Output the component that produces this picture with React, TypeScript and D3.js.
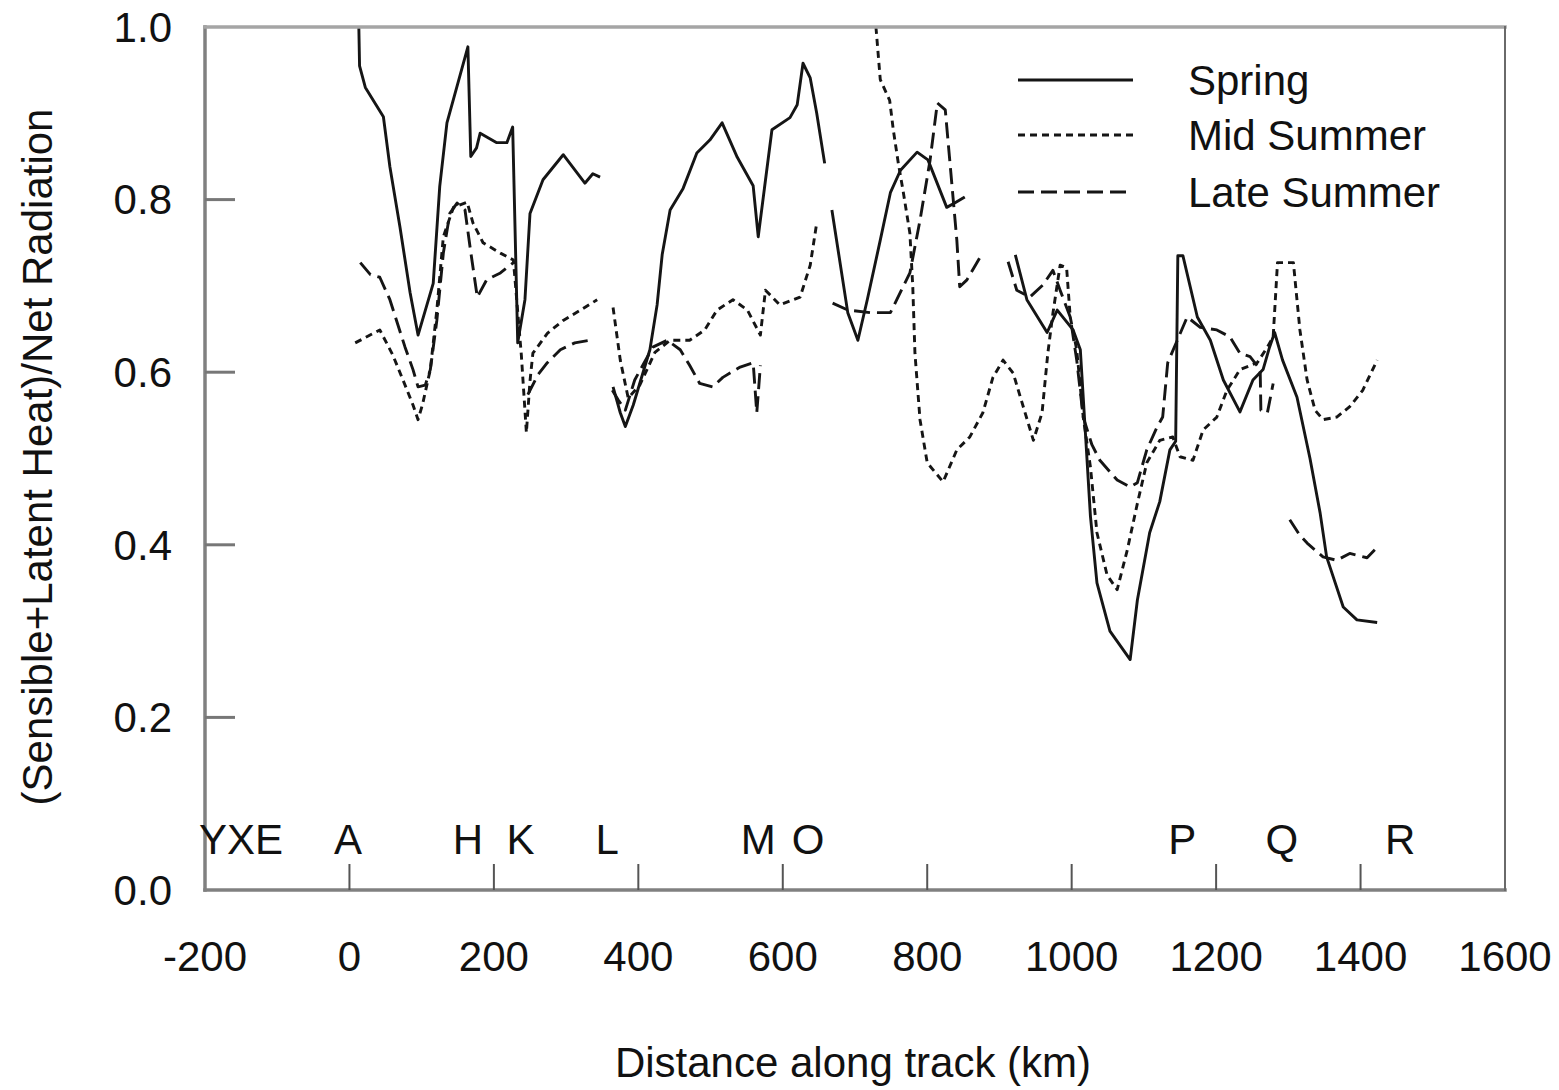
import React, { useEffect, useRef } from "react";
import * as d3 from "d3";

type Pt = [number, number];

// distance along track (km), ratio
const springSegments: Pt[][] = [
  [[13, 1.0], [14, 0.955], [22, 0.93], [47, 0.896], [56, 0.838], [70, 0.768], [84, 0.692], [95, 0.643], [116, 0.703], [125, 0.815], [135, 0.889], [164, 0.977], [168, 0.85], [176, 0.86], [181, 0.877], [204, 0.866], [218, 0.866], [226, 0.884], [233, 0.634], [243, 0.684], [250, 0.784], [268, 0.823], [296, 0.852], [326, 0.819], [337, 0.83], [347, 0.826]],
  [[365, 0.583], [375, 0.553], [382, 0.537], [393, 0.562], [416, 0.626], [426, 0.678], [433, 0.736], [444, 0.788], [462, 0.813], [481, 0.854], [499, 0.869], [516, 0.889], [537, 0.849], [559, 0.816], [566, 0.757], [585, 0.881], [610, 0.895], [620, 0.91], [628, 0.958], [638, 0.941], [647, 0.9], [658, 0.842]],
  [[668, 0.788], [690, 0.669], [704, 0.637], [717, 0.684], [735, 0.753], [749, 0.808], [763, 0.834], [786, 0.855], [801, 0.846], [827, 0.791], [838, 0.796], [852, 0.803]],
  [[922, 0.736], [938, 0.684], [966, 0.646], [980, 0.672], [1002, 0.649], [1012, 0.626], [1019, 0.53], [1026, 0.433], [1035, 0.356], [1053, 0.3], [1081, 0.267], [1091, 0.336], [1108, 0.414], [1122, 0.45], [1136, 0.51], [1144, 0.52], [1147, 0.735], [1154, 0.735], [1174, 0.664], [1192, 0.637], [1210, 0.591], [1233, 0.554], [1251, 0.591], [1265, 0.603], [1274, 0.629], [1281, 0.646], [1292, 0.614], [1312, 0.571], [1330, 0.5], [1344, 0.437], [1353, 0.386], [1376, 0.328], [1395, 0.313], [1423, 0.31]],
];

const midSummerSegments: Pt[][] = [
  [[8, 0.634], [42, 0.649], [60, 0.62], [77, 0.585], [88, 0.562], [95, 0.545], [101, 0.562], [112, 0.603], [121, 0.672], [130, 0.757], [144, 0.791], [163, 0.797], [171, 0.773], [185, 0.75], [209, 0.738], [227, 0.73], [238, 0.62], [245, 0.53], [250, 0.59], [254, 0.622], [274, 0.645], [296, 0.66], [320, 0.672], [343, 0.684]],
  [[365, 0.675], [375, 0.614], [386, 0.57], [402, 0.585], [423, 0.623], [444, 0.637], [471, 0.637], [492, 0.649], [509, 0.672], [531, 0.684], [551, 0.672], [569, 0.643], [576, 0.695], [596, 0.678], [624, 0.687], [638, 0.724], [647, 0.773]],
  [[729, 1.0], [735, 0.939], [748, 0.915], [753, 0.881], [760, 0.842], [767, 0.808], [776, 0.761], [780, 0.699], [783, 0.622], [790, 0.545], [800, 0.495], [822, 0.473], [841, 0.51], [859, 0.525], [877, 0.553], [891, 0.594], [905, 0.614], [919, 0.599], [933, 0.56], [947, 0.521], [959, 0.553], [967, 0.622], [974, 0.668], [984, 0.724], [993, 0.721], [998, 0.664], [1007, 0.626], [1016, 0.548], [1026, 0.49], [1035, 0.414], [1049, 0.365], [1063, 0.348], [1077, 0.394], [1091, 0.448], [1104, 0.495], [1122, 0.521], [1140, 0.525], [1150, 0.502], [1168, 0.498], [1182, 0.533], [1201, 0.548], [1215, 0.579], [1233, 0.603], [1257, 0.611], [1271, 0.629], [1279, 0.641], [1285, 0.727], [1307, 0.727], [1316, 0.649], [1326, 0.591], [1337, 0.556], [1348, 0.545], [1367, 0.548], [1385, 0.56], [1403, 0.579], [1423, 0.614]],
];

const lateSummerSegments: Pt[][] = [
  [[15, 0.727], [29, 0.713], [42, 0.71], [56, 0.684], [77, 0.629], [88, 0.603], [95, 0.583], [105, 0.585], [112, 0.603], [121, 0.66], [130, 0.738], [139, 0.784], [149, 0.796], [160, 0.788], [167, 0.745], [177, 0.687], [190, 0.707], [209, 0.715], [227, 0.727]],
  [[247, 0.574], [261, 0.597], [274, 0.611], [292, 0.626], [312, 0.634], [333, 0.637]],
  [[364, 0.579], [372, 0.568], [382, 0.556], [395, 0.591], [420, 0.629], [440, 0.637], [458, 0.626], [471, 0.608], [485, 0.587], [503, 0.583], [517, 0.594], [541, 0.606], [559, 0.611], [564, 0.553], [569, 0.608]],
  [[669, 0.68], [690, 0.672], [721, 0.669], [749, 0.669], [776, 0.715], [790, 0.776], [804, 0.846], [814, 0.912], [825, 0.904], [832, 0.838], [836, 0.8], [841, 0.753], [845, 0.699], [855, 0.707], [873, 0.733]],
  [[912, 0.728], [924, 0.695], [942, 0.687], [960, 0.701], [974, 0.718], [984, 0.695], [998, 0.664], [1007, 0.614], [1016, 0.548], [1028, 0.516], [1039, 0.498], [1063, 0.475], [1081, 0.467], [1091, 0.472], [1104, 0.51], [1118, 0.536], [1126, 0.548], [1133, 0.611], [1160, 0.664], [1178, 0.652], [1201, 0.649], [1219, 0.641], [1233, 0.622], [1247, 0.618], [1261, 0.603], [1262, 0.556], [1271, 0.553], [1279, 0.587]],
  [[1302, 0.429], [1316, 0.411], [1326, 0.402], [1348, 0.386], [1367, 0.382], [1385, 0.39], [1409, 0.385], [1423, 0.397]],
];

const xTickLabels = [-200, 0, 200, 400, 600, 800, 1000, 1200, 1400, 1600];
const xTickMarks = [0, 200, 400, 600, 800, 1000, 1200, 1400];
const yTickLabels = [0, 0.2, 0.4, 0.6, 0.8, 1.0];
const yTickMarks = [0.2, 0.4, 0.6, 0.8];

const stationNames = ["YXE", "A", "H", "K", "L", "M", "O", "P", "Q", "R"];
const stationKm = [-150, -2, 164, 237, 357, 566, 635, 1153, 1291, 1455];

const seriesNames = ["Spring", "Mid Summer", "Late Summer"];
const seriesDash = [null, "7,5", "16,7"];

const FONT = "'Liberation Sans', Arial, Helvetica, sans-serif";

export default function App() {
  const svgRef = useRef<SVGSVGElement>(null);

  useEffect(() => {
    if (!svgRef.current) return;
    const svg = d3.select(svgRef.current);
    svg.selectAll("*").remove();

    const left = 205;
    const right = 1505;
    const top = 27;
    const bottom = 890;

    const xScale = d3.scaleLinear().domain([-200, 1600]).range([left, right]);
    const yScale = d3.scaleLinear().domain([0, 1]).range([bottom, top]);

    svg.append("rect").attr("width", 1559).attr("height", 1090).attr("fill", "#fff");

    // data lines
    const line = d3
      .line<Pt>()
      .x((d) => xScale(d[0]))
      .y((d) => yScale(d[1]));

    const allSeries = [springSegments, midSummerSegments, lateSummerSegments];
    allSeries.forEach((segments, i) => {
      svg
        .append("g")
        .selectAll("path")
        .data(segments)
        .enter()
        .append("path")
        .attr("d", (d) => line(d))
        .attr("fill", "none")
        .attr("stroke", "#151515")
        .attr("stroke-width", 2.9)
        .attr("stroke-linejoin", "round")
        .attr("stroke-dasharray", seriesDash[i]);
    });

    // frame
    const frame = svg.append("g").attr("stroke", "#808080").attr("stroke-linecap", "square");
    frame.append("line").attr("x1", left).attr("x2", right).attr("y1", bottom).attr("y2", bottom).attr("stroke-width", 3.5);
    frame.append("line").attr("x1", left).attr("x2", left).attr("y1", top).attr("y2", bottom).attr("stroke-width", 3.5);
    frame.append("line").attr("x1", left).attr("x2", right).attr("y1", top).attr("y2", top).attr("stroke", "#a5a5a5").attr("stroke-width", 3.5);
    frame.append("line").attr("x1", right).attr("x2", right).attr("y1", top).attr("y2", bottom).attr("stroke", "#6a6a6a").attr("stroke-width", 2);

    // ticks (inward)
    svg
      .append("g")
      .selectAll("line")
      .data(xTickMarks)
      .enter()
      .append("line")
      .attr("x1", (d) => xScale(d))
      .attr("x2", (d) => xScale(d))
      .attr("y1", bottom)
      .attr("y2", bottom - 26)
      .attr("stroke", "#555")
      .attr("stroke-width", 2);

    svg
      .append("g")
      .selectAll("line")
      .data(yTickMarks)
      .enter()
      .append("line")
      .attr("x1", left)
      .attr("x2", left + 30)
      .attr("y1", (d) => yScale(d))
      .attr("y2", (d) => yScale(d))
      .attr("stroke", "#777")
      .attr("stroke-width", 3);

    const text = svg.append("g").attr("font-family", FONT).attr("font-size", 42).attr("fill", "#111");

    text
      .selectAll(".xt")
      .data(xTickLabels)
      .enter()
      .append("text")
      .attr("x", (d) => xScale(d))
      .attr("y", 956)
      .attr("dy", "0.35em")
      .attr("text-anchor", "middle")
      .text((d) => String(d));

    text
      .selectAll(".yt")
      .data(yTickLabels)
      .enter()
      .append("text")
      .attr("x", 172)
      .attr("y", (d) => yScale(d))
      .attr("dy", "0.35em")
      .attr("text-anchor", "end")
      .text((d) => d3.format(".1f")(d));

    text
      .selectAll(".st")
      .data(stationNames)
      .enter()
      .append("text")
      .attr("x", (_d, i) => xScale(stationKm[i]))
      .attr("y", 839)
      .attr("dy", "0.35em")
      .attr("text-anchor", "middle")
      .text((d) => d);

    text
      .append("text")
      .attr("x", 853)
      .attr("y", 1077)
      .attr("text-anchor", "middle")
      .text("Distance along track (km)");

    text
      .append("text")
      .attr("transform", "translate(52,457) rotate(-90)")
      .attr("text-anchor", "middle")
      .text("(Sensible+Latent Heat)/Net Radiation");

    // legend
    const legend = svg.append("g");
    const legendY = [80, 135, 192];
    seriesNames.forEach((name, i) => {
      legend
        .append("line")
        .attr("x1", 1018)
        .attr("x2", 1133)
        .attr("y1", legendY[i])
        .attr("y2", legendY[i])
        .attr("stroke", "#151515")
        .attr("stroke-width", 2.9)
        .attr("stroke-dasharray", seriesDash[i]);
      legend
        .append("text")
        .attr("x", 1188)
        .attr("y", legendY[i])
        .attr("dy", "0.35em")
        .attr("font-family", FONT)
        .attr("font-size", 42)
        .attr("fill", "#111")
        .text(name);
    });
  }, []);

  return (
    <svg
      ref={svgRef}
      width={1559}
      height={1090}
      style={{ position: "absolute", left: 0, top: 0, display: "block" }}
    ></svg>
  );
}
